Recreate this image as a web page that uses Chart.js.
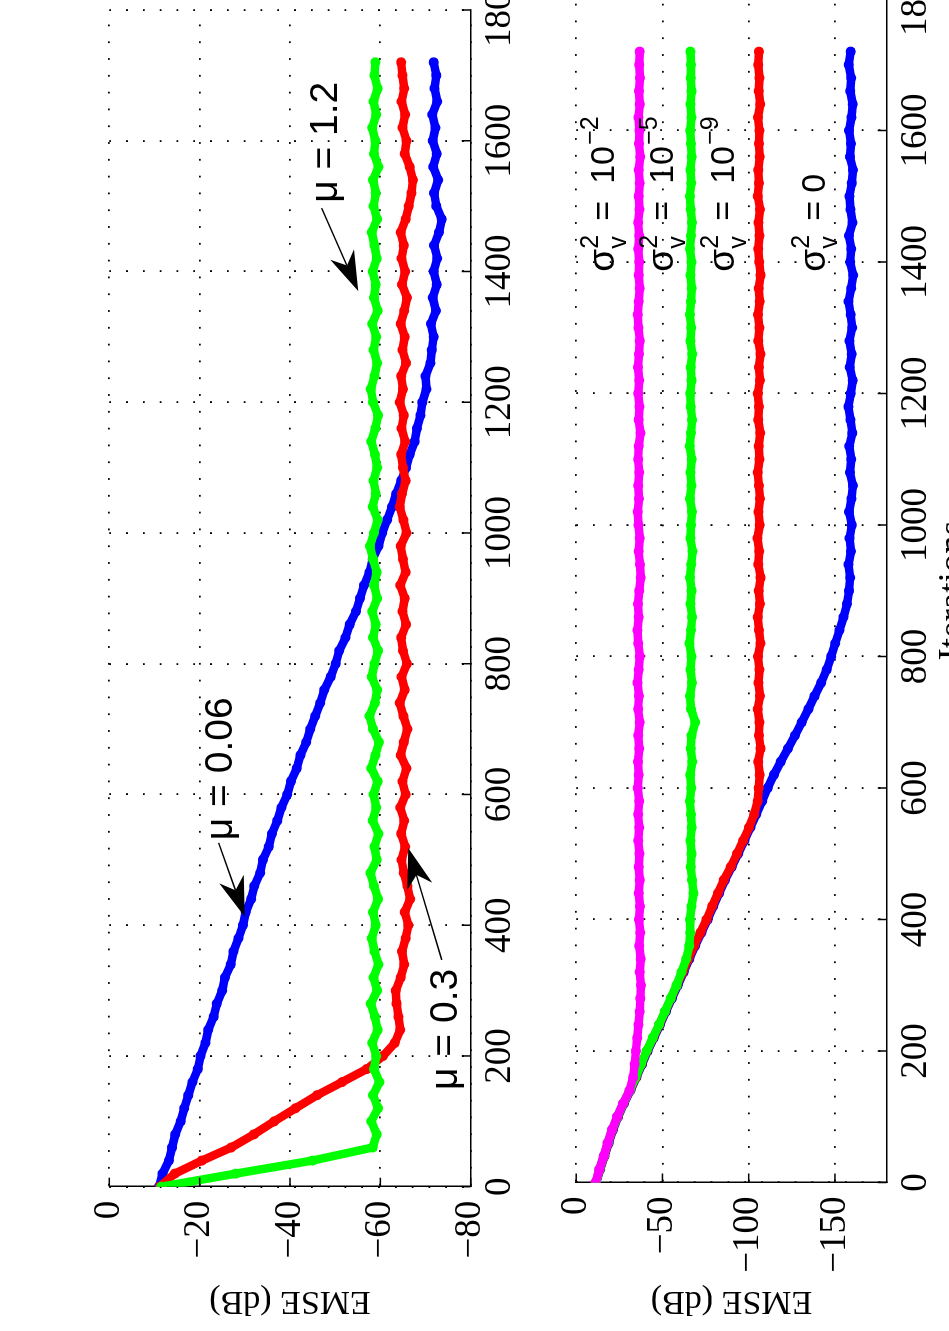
<!DOCTYPE html>
<html>
<head>
<meta charset="utf-8">
<script src="https://cdn.jsdelivr.net/npm/chart.js@4.4.0/dist/chart.umd.min.js"></script>
<style>
html, body { margin: 0; padding: 0; background: #fff; overflow: hidden; width: 949px; height: 1331px; }
/* the figure is laid out in landscape and turned a quarter turn, like the printed page */
#rot { position: absolute; left: 0; top: 1331px; width: 1400px; height: 1000px; transform-origin: 0 0; transform: rotate(-90deg); background: #fff; }
#mu { position: absolute; left: 0; top: 0; }
#sigma { position: absolute; left: 0; top: 540px; }
</style>
</head>
<body>
<div id="rot">
  <canvas id="mu" width="1400" height="540"></canvas>
  <canvas id="sigma" width="1400" height="460"></canvas>
</div>
<script>
// iteration index shared by every curve
const iterations = [
  0, 20, 40, 60, 80, 100, 120, 140, 160, 180,
  200, 220, 240, 260, 280, 300, 320, 340, 360, 380,
  400, 420, 440, 460, 480, 500, 520, 540, 560, 580,
  600, 620, 640, 660, 680, 700, 720, 740, 760, 780,
  800, 820, 840, 860, 880, 900, 920, 940, 960, 980,
  1000, 1020, 1040, 1060, 1080, 1100, 1120, 1140, 1160, 1180,
  1200, 1220, 1240, 1260, 1280, 1300, 1320, 1340, 1360, 1380,
  1400, 1420, 1440, 1460, 1480, 1500, 1520, 1540, 1560, 1580,
  1600, 1620, 1640, 1660, 1680, 1700, 1720
];

const xTickValues = [0, 200, 400, 600, 800, 1000, 1200, 1400, 1600, 1800];
const muTickValues = [0, -20, -40, -60, -80];
const sigmaTickValues = [0, -50, -100, -150];

// upper panel: step sizes
const muSmall = [ // mu = 0.06
  -11.0, -11.8, -13.2, -13.9, -14.6, -15.8, -16.6, -17.5, -18.4, -19.6,
  -20.2, -21.3, -21.9, -23.1, -23.8, -25.0, -25.6, -26.9, -27.5, -28.6,
  -29.6, -30.2, -31.4, -32.1, -33.4, -34.0, -35.3, -36.0, -37.2, -38.1,
  -39.4, -40.2, -41.5, -42.3, -43.6, -44.5, -45.6, -46.7, -47.6, -49.0,
  -50.1, -50.9, -52.3, -53.2, -54.6, -55.5, -56.4, -57.6, -58.3, -59.6,
  -60.4, -61.5, -62.6, -63.5, -64.6, -65.7, -66.5, -67.6, -68.1, -68.9,
  -69.3, -70.2, -70.0, -71.1, -71.4, -71.8, -71.2, -72.3, -71.6, -72.5,
  -71.8, -72.6, -71.9, -73.0, -73.6, -72.4, -71.9, -72.8, -71.7, -72.5,
  -71.6, -72.2, -71.5, -72.6, -72.0, -72.4, -71.8
];
const muMid = [ // mu = 0.3
  -11.2, -14.5, -20.5, -27.0, -32.0, -36.5, -41.2, -46.0, -51.5, -57.0,
  -60.6, -63.2, -64.4, -64.0, -63.6, -63.4, -64.5, -65.3, -64.8, -65.6,
  -66.2, -65.4, -66.6, -66.0, -65.2, -64.7, -65.5, -64.6, -65.3, -64.4,
  -65.6, -64.9, -65.8, -64.5, -65.2, -66.0, -65.1, -64.3, -65.4, -64.7,
  -65.9, -65.0, -64.6, -65.7, -64.9, -65.4, -64.4, -65.6, -65.0, -64.5,
  -65.8, -65.1, -64.3, -64.8, -65.6, -65.0, -64.6, -65.5, -64.7, -65.2,
  -64.3, -65.0, -64.6, -65.7, -64.9, -65.4, -64.5, -65.3, -65.9, -64.8,
  -65.5, -64.7, -65.2, -64.5, -65.6, -66.3, -66.9, -67.2, -66.5, -65.4,
  -65.8, -64.9, -65.5, -64.7, -65.3, -64.9, -64.6
];
const muLarge = [ // mu = 1.2
  -11.5, -28.0, -45.0, -58.3, -59.2, -58.0, -59.5, -58.4, -59.8, -58.6,
  -59.1, -58.2, -59.4, -58.8, -57.9, -59.3, -58.5, -59.6, -58.7, -58.1,
  -59.0, -58.4, -59.5, -58.6, -57.8, -59.2, -58.7, -59.6, -58.3, -59.1,
  -58.5, -59.4, -58.0, -58.9, -59.7, -58.4, -57.6, -58.8, -59.3, -58.1,
  -58.7, -59.5, -58.4, -59.0, -58.2, -59.3, -58.6, -59.2, -58.4, -57.7,
  -58.6, -59.4, -58.3, -59.0, -58.5, -59.3, -58.8, -58.0, -58.9, -59.5,
  -58.4, -57.9, -58.7, -59.3, -58.5, -59.1, -58.2, -59.4, -58.6, -59.0,
  -58.3, -59.2, -58.7, -58.1, -59.3, -58.5, -59.0, -58.4, -59.6, -58.6,
  -58.9, -58.2, -59.1, -58.5, -59.4, -58.7, -58.9
];

// lower panel: noise variance
const sigmaZero = [
  -11.6, -13.9, -16.4, -18.8, -21.3, -24.3, -27.7, -31.5, -34.9, -38.2,
  -41.4, -45.0, -48.6, -52.0, -55.5, -58.9, -62.3, -65.6, -69.0, -72.6,
  -76.2, -79.5, -82.9, -86.3, -90.2, -93.9, -97.5, -101.0, -104.4, -107.8,
  -111.0, -114.6, -118.6, -122.8, -126.8, -130.8, -134.6, -138.2, -142.0, -145.2,
  -147.8, -150.2, -152.6, -155.0, -157.0, -158.2, -158.8, -157.9, -159.3, -158.5,
  -159.8, -158.2, -159.6, -160.4, -158.7, -159.5, -158.3, -160.1, -159.0, -157.8,
  -159.2, -160.3, -158.6, -159.7, -158.4, -160.0, -159.1, -157.9, -159.4, -160.6,
  -158.8, -159.5, -158.1, -160.2, -159.0, -158.4, -159.8, -160.5, -158.7, -159.3,
  -158.2, -159.6, -160.3, -158.9, -159.4, -158.0, -159.1
];
const sigmaE9 = [
  -11.4, -13.6, -16.2, -18.5, -21.0, -24.0, -27.4, -31.2, -34.6, -37.8,
  -41.0, -44.6, -48.2, -51.6, -55.0, -58.4, -61.8, -65.0, -68.4, -72.0,
  -75.6, -78.8, -82.2, -85.6, -89.6, -93.2, -96.8, -100.2, -103.2, -105.2,
  -105.8, -106.4, -105.5, -106.9, -105.9, -106.3, -105.2, -106.6, -105.7, -106.2,
  -105.4, -106.8, -106.0, -105.3, -106.5, -105.8, -106.9, -105.6, -106.1, -105.1,
  -106.4, -105.7, -106.6, -105.9, -105.2, -106.3, -105.8, -106.7, -105.5, -106.0,
  -105.3, -106.5, -105.9, -106.8, -105.6, -106.2, -105.4, -106.4, -105.8, -106.9,
  -106.1, -105.5, -106.3, -105.7, -106.6, -105.3, -106.0, -105.6, -106.4, -105.9,
  -106.2, -105.4, -106.7, -105.8, -106.3, -105.5, -106.0
];
const sigmaE5 = [
  -11.3, -13.5, -16.0, -18.3, -20.8, -23.8, -27.2, -31.0, -34.4, -37.6,
  -40.8, -44.4, -48.0, -51.4, -54.8, -58.2, -61.0, -63.8, -65.6, -66.1,
  -66.0, -66.8, -68.0, -67.2, -66.4, -66.9, -66.2, -67.0, -66.5, -65.9,
  -66.7, -66.1, -67.3, -66.4, -66.9, -69.0, -66.6, -66.0, -67.1, -66.3,
  -66.8, -65.7, -66.5, -67.2, -66.3, -66.9, -66.0, -66.7, -67.4, -66.2,
  -66.6, -67.1, -66.0, -66.8, -66.3, -67.0, -65.8, -66.5, -67.2, -66.4,
  -66.1, -66.9, -66.4, -67.3, -66.2, -66.7, -65.9, -66.6, -67.0, -66.3,
  -66.8, -66.0, -66.6, -67.1, -66.4, -65.9, -66.7, -66.2, -67.0, -66.5,
  -66.1, -66.8, -66.3, -66.9, -66.4, -66.6, -66.2
];
const sigmaE2 = [
  -11.2, -13.4, -15.9, -18.2, -20.7, -23.7, -27.1, -30.9, -33.0, -33.9,
  -34.6, -35.4, -36.1, -36.8, -37.2, -37.5, -36.8, -37.4, -36.6, -37.1,
  -36.4, -37.0, -36.3, -36.9, -36.2, -36.7, -36.0, -36.5, -35.9, -36.6,
  -35.7, -36.3, -35.8, -36.5, -36.0, -36.8, -35.9, -36.4, -35.6, -36.2,
  -36.9, -36.0, -35.5, -36.3, -35.8, -36.6, -37.4, -37.0, -36.2, -36.8,
  -36.1, -35.7, -36.4, -36.0, -36.6, -35.9, -36.3, -37.3, -36.2, -36.7,
  -36.0, -36.5, -35.8, -36.4, -36.9, -36.1, -35.7, -36.3, -36.8, -36.2,
  -36.6, -36.0, -36.5, -35.9, -36.7, -36.2, -36.8, -36.3, -37.1, -36.4,
  -36.7, -36.1, -36.9, -36.4, -37.0, -36.5, -36.8
];

// annotation anchors, in data units (iteration, EMSE)
const muLabels = [
  { text: 'μ = 0.06', it: 530, emse: -27.1 },
  { text: 'μ = 0.3', it: 148, emse: -76.9 },
  { text: 'μ = 1.2', it: 1505, emse: -50.5 }
];
const muArrows = [
  { from: [526, -24.2], to: [413, -30.0] },
  { from: [347, -73.6], to: [518, -66.2] },
  { from: [1497, -47.0], to: [1370, -55.1] }
];
const sigmaLabels = [
  { power: '\u22122', it: 1385, emse: -22.1 },
  { power: '\u22125', it: 1385, emse: -56.2 },
  { power: '\u22129', it: 1385, emse: -91.3 },
  { power: null, it: 1385, emse: -144.2 }
];

const serif = '"Liberation Serif", "Times New Roman", serif';
const sans = '"Liberation Sans", Arial, sans-serif';

function drawArrow(ctx, x1, y1, x2, y2) {
  const len = Math.hypot(x2 - x1, y2 - y1);
  const ux = (x2 - x1) / len, uy = (y2 - y1) / len;
  const nx = -uy, ny = ux;
  const L = 40, W = 13;
  ctx.strokeStyle = '#000';
  ctx.lineWidth = 1.5;
  ctx.beginPath();
  ctx.moveTo(x1, y1);
  ctx.lineTo(x2 - ux * L * 0.7, y2 - uy * L * 0.7);
  ctx.stroke();
  ctx.beginPath();
  ctx.moveTo(x2, y2);
  ctx.lineTo(x2 - ux * L + nx * W, y2 - uy * L + ny * W);
  ctx.lineTo(x2 - ux * L * 0.7, y2 - uy * L * 0.7);
  ctx.lineTo(x2 - ux * L - nx * W, y2 - uy * L - ny * W);
  ctx.closePath();
  ctx.fill();
}

// sigma_v^2 = 10^p, set piece by piece like the TeX labels
function drawSigma(ctx, x, y, power) {
  const big = '34px ' + sans, small = '25px ' + sans;
  ctx.font = '37px ' + sans;
  ctx.fillText('σ', x, y);
  ctx.font = small;
  ctx.fillText('v', x + 23, y + 12);
  ctx.fillText('2', x + 23, y - 16);
  ctx.font = big;
  ctx.fillText('=', x + 51, y);
  if (power) {
    ctx.fillText('10', x + 88, y);
    ctx.font = small;
    ctx.fillText(power, x + 127, y - 16);
  } else {
    ctx.fillText('0', x + 79, y);
  }
}

const notes = {
  id: 'notes',
  afterDraw(chart, args, opts) {
    const ctx = chart.ctx, xs = chart.scales.x, ys = chart.scales.y, area = chart.chartArea;
    ctx.save();
    // ticks point into the axes
    ctx.strokeStyle = '#000';
    ctx.lineWidth = 1.5;
    xs.ticks.forEach(t => {
      const p = xs.getPixelForValue(t.value);
      ctx.beginPath(); ctx.moveTo(p, area.bottom); ctx.lineTo(p, area.bottom - 9); ctx.stroke();
    });
    ys.ticks.forEach(t => {
      const p = ys.getPixelForValue(t.value);
      ctx.beginPath(); ctx.moveTo(area.left, p); ctx.lineTo(area.left + 9, p); ctx.stroke();
    });
    ctx.fillStyle = '#000';
    (opts.arrows || []).forEach(a => drawArrow(ctx,
      xs.getPixelForValue(a.from[0]), ys.getPixelForValue(a.from[1]),
      xs.getPixelForValue(a.to[0]), ys.getPixelForValue(a.to[1])));
    ctx.textAlign = 'left';
    ctx.textBaseline = 'alphabetic';
    (opts.labels || []).forEach(l => {
      ctx.font = '39px ' + sans;
      ctx.fillText(l.text, xs.getPixelForValue(l.it), ys.getPixelForValue(l.emse));
    });
    (opts.sigmas || []).forEach(s => drawSigma(ctx, xs.getPixelForValue(s.it), ys.getPixelForValue(s.emse), s.power));
    ctx.restore();
  }
};

function minus(v) {
  return String(v).replace('-', '\u2212');
}

function makePanel(id, series, yMin, yTicks, pad, yWidth, xHeight, xTitle, noteOpts) {
  return new Chart(document.getElementById(id), {
    type: 'line',
    data: {
      datasets: series.map(s => ({
        data: s.values.map((v, i) => ({ x: iterations[i], y: v })),
        borderColor: s.color,
        backgroundColor: s.color,
        pointBackgroundColor: s.color,
        borderWidth: 8.5,
        pointRadius: 5,
        pointBorderWidth: 0,
        pointHoverRadius: 0,
        borderJoinStyle: 'round',
        borderCapStyle: 'round',
        tension: 0,
        fill: false,
        order: s.order
      }))
    },
    options: {
      responsive: false,
      devicePixelRatio: 1,
      animation: false,
      events: [],
      layout: { padding: pad },
      plugins: { legend: { display: false }, tooltip: { enabled: false }, notes: noteOpts },
      scales: {
        x: {
          type: 'linear', min: 0, max: 1800,
          afterBuildTicks: s => { s.ticks = xTickValues.map(v => ({ value: v })); },
          afterFit: s => { s.height = xHeight; },
          grid: { color: '#000', lineWidth: 1.8, drawTicks: false },
          border: { display: true, color: '#000', width: 1.5, dash: [1.8, 15] },
          ticks: { color: '#000', font: { family: serif, size: 37 }, padding: 7, maxRotation: 0, autoSkip: false, callback: v => String(v) },
          title: { display: !!xTitle, text: xTitle || '', color: '#000', font: { family: serif, size: 37 }, padding: { top: 0, bottom: 24 } }
        },
        y: {
          type: 'linear', min: yMin, max: 0,
          afterBuildTicks: s => { s.ticks = yTicks.map(v => ({ value: v })); },
          afterFit: s => { s.width = yWidth; },
          grid: { color: '#000', lineWidth: 1.8, drawTicks: false },
          border: { display: true, color: '#000', width: 1.5, dash: [1.8, 15] },
          ticks: { color: '#000', font: { family: serif, size: 37 }, padding: 14, callback: v => minus(v) },
          title: { display: true, text: 'EMSE (dB)', color: '#000', font: { family: serif, size: 34 }, padding: { top: 10, bottom: 0 } }
        }
      }
    },
    plugins: [notes]
  });
}

makePanel('mu', [
  { values: muLarge, color: '#00ff00', order: 1 },
  { values: muMid, color: '#ff0000', order: 2 },
  { values: muSmall, color: '#0000ff', order: 3 }
], -80, muTickValues, { left: 0, top: 109.3, right: 79, bottom: 0 }, 144.3, 69.3, null,
  { labels: muLabels, arrows: muArrows });

makePanel('sigma', [
  { values: sigmaE2, color: '#ff00ff', order: 1 },
  { values: sigmaE5, color: '#00ff00', order: 2 },
  { values: sigmaE9, color: '#ff0000', order: 3 },
  { values: sigmaZero, color: '#0000ff', order: 4 }
], -180, sigmaTickValues, { left: 0, top: 12.3, right: 68, bottom: 0 }, 148.5, 113.3, 'Iterations',
  { sigmas: sigmaLabels });
</script>
</body>
</html>
